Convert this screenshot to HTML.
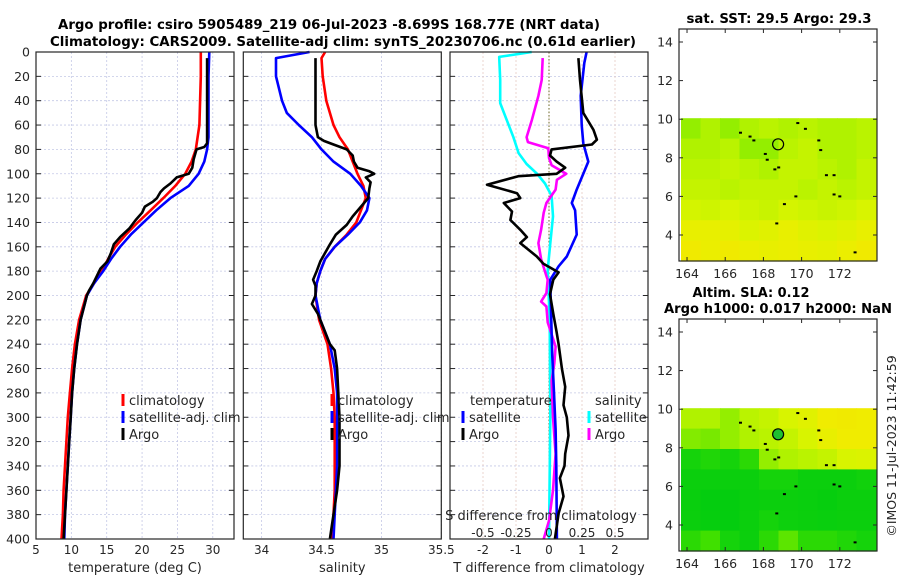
<!DOCTYPE html>
<html><head><meta charset="utf-8"><style>
html,body{margin:0;padding:0;background:#fff;}
svg{display:block;font-family:"DejaVu Sans","Liberation Sans",sans-serif;}
</style></head><body>
<svg id="fig" width="900" height="580" viewBox="0 0 900 580" xmlns="http://www.w3.org/2000/svg">
<rect x="0" y="0" width="900" height="580" fill="#fff"/>
<text x="329" y="29" text-anchor="middle" font-size="13" font-weight="bold" textLength="542" lengthAdjust="spacingAndGlyphs">Argo profile: csiro 5905489_219 06-Jul-2023 -8.699S 168.77E (NRT data)</text>
<text x="343" y="46" text-anchor="middle" font-size="13" font-weight="bold" textLength="586" lengthAdjust="spacingAndGlyphs">Climatology: CARS2009. Satellite-adj clim: synTS_20230706.nc (0.61d earlier)</text>
<text x="779" y="23" text-anchor="middle" font-size="13" font-weight="bold" textLength="185" lengthAdjust="spacingAndGlyphs">sat. SST: 29.5 Argo: 29.3</text>
<text x="751" y="297" text-anchor="middle" font-size="13" font-weight="bold" textLength="117" lengthAdjust="spacingAndGlyphs">Altim. SLA: 0.12</text>
<text x="778" y="313" text-anchor="middle" font-size="13" font-weight="bold" textLength="228" lengthAdjust="spacingAndGlyphs">Argo h1000: 0.017 h2000: NaN</text>
<text transform="translate(896,446) rotate(-90)" text-anchor="middle" font-size="12.5" fill="#262626">©IMOS 11-Jul-2023 11:42:59</text>
<g id="g"></g>
</svg>
<script>
// ---------- data ----------
const depthTicks=[0,20,40,60,80,100,120,140,160,180,200,220,240,260,280,300,320,340,360,380,400];
const tempTicks=[5,10,15,20,25,30];
const salTicks=[34,34.5,35,35.5];
const tdiffTicks=[-2,-1,0,1,2];
const sdiffTickLabels=["-0.5","-0.25","0","0.25","0.5"];
const sdiffTicks=[-0.5,-0.25,0,0.25,0.5];

const tClimDepth=[0,20,40,60,80,90,100,110,120,130,140,150,160,170,180,190,200,220,240,260,280,300,320,340,360,380,400];
const tClimVal=[28.3,28.3,28.2,28.1,27.6,27.0,26.1,24.7,23.0,21.2,19.4,17.7,16.2,15.2,14.3,13.2,12.1,11.1,10.5,10.1,9.8,9.5,9.3,9.1,8.9,8.8,8.6];
const tSatDepth=[0,20,40,60,70,80,90,100,110,120,130,140,150,160,170,180,190,200,220,240,260,280,300,320,340,360,380,400];
const tSatVal=[29.5,29.4,29.4,29.4,29.4,29.2,28.8,28.0,26.6,24.0,22.0,20.2,18.4,16.9,15.6,14.5,13.2,12.2,11.3,10.8,10.4,10.1,9.9,9.7,9.5,9.3,9.1,9.0];
const tArgoDepth=[5,40,75,78,80,88,95,100,103,108,112,115,120,123,127,132,138,145,152,158,165,172,178,190,196,200,220,240,260,280,300,320,340,360,380,400];
const tArgoVal=[29.2,29.2,29.2,28.8,27.7,27.3,27.1,26.6,24.9,24.0,23.1,22.6,22.1,21.5,20.4,20.0,19.1,18.2,16.9,16.0,15.6,15.1,14.1,13.1,12.5,12.2,11.3,10.8,10.4,10.1,9.9,9.7,9.5,9.3,9.1,8.9];

const sClimDepth=[0,5,20,40,60,70,80,90,100,110,120,130,140,150,160,170,180,190,200,220,240,260,280,300,320,340,360,380,400];
const sClimVal=[34.53,34.50,34.51,34.54,34.60,34.65,34.72,34.76,34.80,34.85,34.87,34.83,34.79,34.71,34.61,34.53,34.49,34.46,34.45,34.48,34.55,34.58,34.60,34.61,34.61,34.61,34.61,34.60,34.59];
const sSatDepth=[0,5,20,40,50,60,70,80,90,100,110,120,130,140,150,160,170,180,190,200,220,240,260,280,300,320,340,360,380,400];
const sSatVal=[34.40,34.12,34.12,34.17,34.21,34.31,34.42,34.50,34.60,34.74,34.83,34.90,34.88,34.82,34.72,34.61,34.53,34.49,34.46,34.45,34.49,34.57,34.61,34.63,34.63,34.63,34.63,34.62,34.61,34.60];
const sArgoDepth=[5,60,70,73,76,80,85,90,95,98,100,103,107,112,120,127,135,142,150,158,165,172,180,187,192,200,207,215,220,240,245,260,280,300,320,340,360,380,400];
const sArgoVal=[34.45,34.45,34.47,34.52,34.60,34.71,34.76,34.77,34.80,34.90,34.94,34.87,34.91,34.90,34.89,34.83,34.76,34.71,34.62,34.57,34.53,34.49,34.46,34.43,34.45,34.45,34.42,34.47,34.49,34.57,34.61,34.63,34.64,34.65,34.65,34.65,34.63,34.60,34.57];

const dTSatDepth=[0,9,36,60,75,90,100,113,124,130,150,168,176,187,200,250,280,310,340,400];
const dTSatVal=[1.14,1.07,0.96,0.99,1.04,1.19,1.04,0.84,0.69,0.79,0.84,0.54,0.29,0.04,0.05,0.10,0.15,0.20,0.22,0.24];
const dTArgoDepth=[5,23,50,64,72,76,80,85,90,95,100,102,109,116,120,124,131,138,146,152,157,168,174,181,187,199,215,230,240,260,275,290,300,315,330,340,350,365,379,400];
const dTArgoVal=[0.89,0.94,1.04,1.35,1.45,1.30,0.08,0.03,0.23,0.49,0.23,-0.93,-1.88,-0.97,-0.87,-1.37,-1.12,-1.17,-0.87,-0.67,-0.87,-0.37,-0.17,0.29,0.13,0.03,0.13,0.23,0.29,0.39,0.49,0.44,0.54,0.59,0.49,0.47,0.33,0.44,0.29,0.18];
const dSSatDepth=[0,4,23,42,56,70,83,92,100,108,118,135,157,179,220,300,400];
const dSSatVal=[-0.131,-0.377,-0.37,-0.37,-0.32,-0.27,-0.23,-0.17,-0.09,-0.03,0.02,0.03,0.01,-0.01,0.005,0.01,0.0];
const dSArgoDepth=[5,23,36,56,70,74,79,87,93,100,105,113,124,132,146,157,170,184,187,198,205,209,222,242,256,270,300,330,360,385,400];
const dSArgoVal=[-0.048,-0.055,-0.08,-0.13,-0.17,-0.16,-0.005,0.0,0.02,0.13,0.06,0.05,-0.02,-0.04,-0.06,-0.08,-0.06,-0.02,-0.01,-0.02,-0.06,-0.02,-0.01,0.05,0.04,0.02,0.03,0.05,0.03,0.0,-0.04];

const mapLonTicks=[164,166,168,170,172];
const mapLatTicks=[4,6,8,10,12,14];
const sstGrid=[
[0.45,0.5,0.45,0.5,0.55,0.5,0.55,0.5,0.5,0.55],
[0.5,0.5,0.55,0.45,0.45,0.55,0.6,0.5,0.5,0.55],
[0.55,0.55,0.6,0.55,0.5,0.6,0.6,0.55,0.5,0.6],
[0.6,0.6,0.55,0.6,0.6,0.6,0.55,0.6,0.55,0.6],
[0.68,0.65,0.7,0.65,0.62,0.68,0.65,0.62,0.65,0.7],
[0.8,0.8,0.78,0.72,0.75,0.8,0.75,0.72,0.75,0.8],
[0.86,0.82,0.86,0.82,0.8,0.82,0.8,0.78,0.82,0.86]];
const slaGrid=[
[0.5,0.5,0.45,0.55,0.6,0.7,0.75,0.85,0.86,0.85],
[0.42,0.4,0.45,0.5,0.55,0.6,0.7,0.8,0.85,0.85],
[0.1,0.15,0.1,0.2,0.45,0.5,0.55,0.6,0.7,0.72],
[0.05,0.05,0.05,0.05,0.1,0.1,0.05,0.05,0.05,0.08],
[0.04,0.02,0.02,0.04,0.05,0.05,0.04,0.03,0.05,0.05],
[0.05,0.03,0.02,0.05,0.1,0.06,0.05,0.04,0.05,0.05],
[0.2,0.3,0.1,0.05,0.2,0.35,0.2,0.2,0.15,0.1]];
const coastLon=[166.8,167.3,167.5,168.1,168.2,168.6,168.8,169.7,169.1,168.7,170.2,170.9,171.0,171.3,171.7,171.7,172.0,172.8,169.8];
const coastLat=[9.3,9.1,8.9,8.2,7.9,7.4,7.5,6.0,5.6,4.6,9.5,8.9,8.4,7.1,7.1,6.1,6.0,3.1,9.8];
const argoLon=168.77, argoLat=8.7;

// ---------- drawing ----------
const NS="http://www.w3.org/2000/svg";
const G=document.getElementById('g');
function mk(tag,attrs,parent){const e=document.createElementNS(NS,tag);for(const k in attrs)e.setAttribute(k,attrs[k]);(parent||G).appendChild(e);return e;}
const Y0=52,Y1=539;
function yD(d){return Y0+(d/400)*(Y1-Y0);}
function lin(d0,d1,r0,r1){return v=>r0+(v-d0)/(d1-d0)*(r1-r0);}
const P=[
 {x0:36,x1:234,fx:lin(5,33,36,234),ticks:tempTicks,labels:tempTicks.map(String),name:'temperature-panel',title:'temperature (deg C)',ylab:true},
 {x0:243.3,x1:441.3,fx:lin(33.847,35.5,243.3,441.3),ticks:salTicks,labels:salTicks.map(String),name:'salinity-panel',title:'salinity'},
 {x0:450,x1:648,fx:lin(-3,3,450,648),ticks:tdiffTicks,labels:tdiffTicks.map(String),name:'difference-panel',title:'T difference from climatology'}
];
const fS=lin(-0.75,0.75,450,648);
P.forEach((p,i)=>{
 const pg=mk('g',{});
 
 
 depthTicks.forEach(d=>{
  const l=mk('line',{x1:p.x0,x2:p.x1,y1:yD(d),y2:yD(d),stroke:'#c4c8e6','stroke-width':0.8,'stroke-dasharray':'2,2'},pg);
  
  
  mk('line',{x1:p.x0,x2:p.x0+5,y1:yD(d),y2:yD(d),stroke:'#262626','stroke-width':1},pg);
  mk('line',{x1:p.x1-5,x2:p.x1,y1:yD(d),y2:yD(d),stroke:'#262626','stroke-width':1},pg);
 });
 p.ticks.forEach((t,k)=>{
  const x=p.fx(t);
  mk('line',{x1:x,x2:x,y1:Y0,y2:Y1,stroke:i==2?'#e6ccc4':'#c4c8e6','stroke-width':0.8,'stroke-dasharray':'2,2'},pg);
  const tl=mk('text',{x:x,y:554,'text-anchor':'middle','font-size':12,fill:'#262626'},pg);
  tl.textContent=p.labels[k];
  
  
 });
 const at=mk('text',{x:(p.x0+p.x1)/2,y:572,'text-anchor':'middle','font-size':13,fill:'#262626'},pg);
 at.textContent=p.title;
 
 
 if(p.ylab){depthTicks.forEach(d=>{const t=mk('text',{x:30,y:yD(d)+4.5,'text-anchor':'end','font-size':12.5,fill:'#262626'},pg);t.textContent=d;
  
  });}
 p.g=pg;
});
mk('line',{x1:549,x2:549,y1:Y0,y2:Y1,stroke:'#6b6b2a','stroke-width':1,'stroke-dasharray':'1.5,2'},P[2].g);
const sdt=mk('text',{x:541,y:520,'text-anchor':'middle','font-size':13,fill:'#262626'});
sdt.textContent='S difference from climatology';


sdiffTicks.forEach((s,k)=>{const t=mk('text',{x:fS(s),y:537,'text-anchor':'middle','font-size':12,fill:'#262626'});t.textContent=sdiffTickLabels[k];
 
 });

function line(pg,fx,depths,vals,color,name){
 let d='';depths.forEach((dd,k)=>{d+=(k?'L':'M')+fx(vals[k]).toFixed(1)+','+yD(dd).toFixed(1);});
 const e=mk('path',{d:d,fill:'none',stroke:color,'stroke-width':2.6,'stroke-linejoin':'round'},pg);
 
 
}
line(P[0].g,P[0].fx,tClimDepth,tClimVal,'#ff0000','temp-climatology-line');
line(P[0].g,P[0].fx,tSatDepth,tSatVal,'#0000ff','temp-satellite-line');
line(P[0].g,P[0].fx,tArgoDepth,tArgoVal,'#000000','temp-argo-line');
line(P[1].g,P[1].fx,sClimDepth,sClimVal,'#ff0000','sal-climatology-line');
line(P[1].g,P[1].fx,sSatDepth,sSatVal,'#0000ff','sal-satellite-line');
line(P[1].g,P[1].fx,sArgoDepth,sArgoVal,'#000000','sal-argo-line');
line(P[2].g,fS,dSSatDepth,dSSatVal,'#00ffff','sdiff-satellite-line');
line(P[2].g,fS,dSArgoDepth,dSArgoVal,'#ff00ff','sdiff-argo-line');
line(P[2].g,P[2].fx,dTSatDepth,dTSatVal,'#0000ff','tdiff-satellite-line');
line(P[2].g,P[2].fx,dTArgoDepth,dTArgoVal,'#000000','tdiff-argo-line');
P.forEach(p=>mk('rect',{x:p.x0,y:Y0,width:p.x1-p.x0,height:Y1-Y0,fill:'none',stroke:'#262626','stroke-width':1.2},p.g));

function legend(x,y,color,label,name){
 const g=mk('g',{});
 
 
 mk('rect',{x:x-1.5,y:y-11,width:3,height:12,fill:color},g);
 const t=mk('text',{x:x+6,y:y,'font-size':13,fill:'#262626'},g);t.textContent=label;
}
legend(123,405,'#ff0000','climatology','legend-entry-climatology');
legend(123,422,'#0000ff','satellite-adj. clim','legend-entry-satellite');
legend(123,439,'#000000','Argo','legend-entry-argo');
legend(332,405,'#ff0000','climatology','legend-entry-climatology');
legend(332,422,'#0000ff','satellite-adj. clim','legend-entry-satellite');
legend(332,439,'#000000','Argo','legend-entry-argo');
const lt1=mk('text',{x:470,y:405,'font-size':13,fill:'#262626'});lt1.textContent='temperature';


const lt2=mk('text',{x:595,y:405,'font-size':13,fill:'#262626'});lt2.textContent='salinity';


legend(463,422,'#0000ff','satellite','legend-entry-temp-satellite');
legend(463,439,'#000000','Argo','legend-entry-temp-argo');
legend(589,422,'#00ffff','satellite','legend-entry-sal-satellite');
legend(589,439,'#ff00ff','Argo','legend-entry-sal-argo');

// ---------- maps ----------
const stops=[[0,[0,204,16]],[0.3,[64,224,0]],[0.5,[176,242,0]],[0.7,[216,244,0]],[0.85,[240,236,0]],[1,[240,200,0]]];
function cmap(v){for(let i=1;i<stops.length;i++){if(v<=stops[i][0]){const a=stops[i-1],b=stops[i];const t=(v-a[0])/(b[0]-a[0]);return 'rgb('+a[1].map((c,k)=>Math.round(c+(b[1][k]-c)*t)).join(',')+')';}}return 'rgb(240,200,0)';}
const lonX=lin(163.58,172,679,839.8);
function drawMap(top,grid,name,filled){
 const mg=mk('g',{});
 
 
 const latY=lin(14,4,top+13,top+206);
 const bottom=top+232;
 const dTop=latY(10.05), dL=681, dR=876;
 const rows=grid.length, cols=grid[0].length;
 const ch=(bottom-dTop)/rows, cw=(dR-dL)/cols;
 grid.forEach((row,r)=>row.forEach((v,c)=>{
  const cell=mk('rect',{x:(dL+c*cw).toFixed(1),y:(dTop+r*ch).toFixed(1),width:(cw+0.6).toFixed(1),height:(ch+0.6).toFixed(1),fill:cmap(v)},mg);
  
  
 }));
 coastLon.forEach((lo,k)=>mk('rect',{x:lonX(lo)-1.5,y:latY(coastLat[k])-1,width:3,height:2,fill:'#000'},mg));
 const m=mk('circle',{cx:lonX(argoLon),cy:latY(argoLat),r:5.5,fill:filled?'#20c030':'none',stroke:'#000','stroke-width':1.2},mg);
 
 
 mk('rect',{x:679,y:top,width:198,height:232,fill:'none',stroke:'#262626','stroke-width':1.2},mg);
 mapLatTicks.forEach(l=>{const y=latY(l);
  mk('line',{x1:679,x2:683,y1:y,y2:y,stroke:'#262626'},mg);mk('line',{x1:873,x2:877,y1:y,y2:y,stroke:'#262626'},mg);
  const t=mk('text',{x:673,y:y+4.5,'text-anchor':'end','font-size':12.5,fill:'#262626'},mg);t.textContent=l;
  
  });
 mapLonTicks.forEach(l=>{const x=lonX(l);
  mk('line',{x1:x,x2:x,y1:bottom-4,y2:bottom,stroke:'#262626'},mg);mk('line',{x1:x,x2:x,y1:top,y2:top+4,stroke:'#262626'},mg);
  const t=mk('text',{x:x,y:bottom+17,'text-anchor':'middle','font-size':12.5,fill:'#262626'},mg);t.textContent=l;
  
  });
}
drawMap(29,sstGrid,'sst-map',false);
drawMap(319,slaGrid,'sla-map',true);
</script>
</body></html>
